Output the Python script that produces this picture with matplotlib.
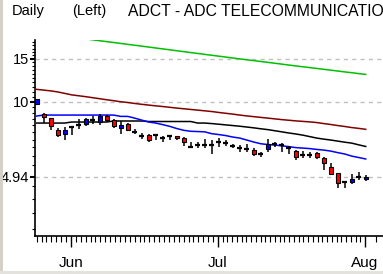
import numpy as np
import matplotlib
matplotlib.use("Agg")
import matplotlib.pyplot as plt
from matplotlib.patches import Rectangle

plt.rcParams['font.family'] = ['Liberation Sans', 'DejaVu Sans']

# daily candles, ADCT
opens = [9.81, 8.87, 8.55, 7.68, 7.39, 7.85, 8.05, 8.13, 8.44, 8.23, 8.71, 8.39,
         7.83, 8.10, 7.53, 7.22, 7.28, 7.33, 7.12, 7.23, 7.23, 7.10, 6.52, 6.65,
         6.65, 6.63, 6.82, 6.78, 6.56, 6.48, 6.42, 6.32, 6.09, 6.38, 6.69, 6.65,
         6.44, 6.28, 6.03, 6.03, 6.16, 5.88, 5.42, 5.10, 4.68, 4.70, 4.92, 4.84]
highs = [10.30, 9.01, 8.58, 7.78, 7.88, 7.85, 8.49, 8.57, 8.74, 8.90, 8.82, 8.49,
         8.33, 8.18, 7.75, 7.42, 7.35, 7.36, 7.22, 7.33, 7.23, 7.19, 6.82, 6.84,
         7.03, 6.95, 7.08, 6.95, 6.73, 6.65, 6.69, 6.44, 6.24, 7.03, 6.86, 6.77,
         6.56, 6.34, 6.28, 6.24, 6.21, 5.95, 5.61, 5.10, 4.72, 5.04, 5.14, 5.01]
lows = [9.75, 8.15, 7.68, 7.19, 6.99, 7.33, 7.73, 7.97, 8.13, 8.05, 8.23, 7.83,
        7.39, 7.59, 7.35, 7.01, 6.86, 6.95, 6.86, 6.99, 6.97, 6.60, 6.48, 6.45,
        6.45, 6.13, 6.54, 6.60, 6.44, 6.21, 6.21, 6.01, 5.95, 6.24, 6.52, 6.24,
        6.13, 5.75, 5.90, 5.88, 5.81, 5.26, 5.01, 4.42, 4.45, 4.61, 4.80, 4.74]
closes = [10.26, 8.62, 7.97, 7.33, 7.66, 7.85, 8.05, 8.47, 8.44, 8.76, 8.44, 7.97,
          8.03, 7.68, 7.53, 7.22, 6.99, 7.33, 7.12, 7.23, 7.08, 6.82, 6.52, 6.65,
          6.65, 6.63, 6.82, 6.78, 6.56, 6.48, 6.42, 6.13, 6.09, 6.71, 6.69, 6.65,
          6.44, 5.92, 6.03, 6.03, 5.92, 5.59, 5.07, 4.66, 4.68, 4.82, 4.92, 4.94]

# moving averages
ma_green = [19.21, 19.05, 18.88, 18.72, 18.56, 18.40, 18.24, 18.09, 17.93, 17.78,
            17.63, 17.48, 17.33, 17.18, 17.04, 16.89, 16.75, 16.60, 16.46, 16.32,
            16.18, 16.04, 15.90, 15.77, 15.63, 15.50, 15.37, 15.24, 15.11, 14.98,
            14.86, 14.74, 14.62, 14.50, 14.38, 14.26, 14.14, 14.02, 13.91, 13.80,
            13.69, 13.58, 13.47, 13.36, 13.25, 13.15, 13.04, 12.94]
ma_red = [11.24, 11.16, 11.08, 10.97, 10.82, 10.67, 10.58, 10.49, 10.39, 10.29,
          10.19, 10.10, 10.00, 9.93, 9.84, 9.76, 9.69, 9.62, 9.56, 9.49,
          9.42, 9.36, 9.30, 9.24, 9.18, 9.12, 9.04, 8.97, 8.90, 8.82,
          8.75, 8.69, 8.63, 8.57, 8.51, 8.45, 8.40, 8.35, 8.31, 8.27,
          8.22, 8.14, 8.07, 7.99, 7.92, 7.84, 7.78, 7.71]
ma_black = [8.18, 8.18, 8.18, 8.18, 8.18, 8.26, 8.26, 8.26, 8.26, 8.26,
            8.26, 8.34, 8.34, 8.34, 8.34, 8.34, 8.30, 8.30, 8.30, 8.30,
            8.30, 8.30, 8.30, 8.18, 8.18, 8.14, 8.09, 8.04, 7.99, 7.94,
            7.88, 7.82, 7.75, 7.69, 7.61, 7.53, 7.45, 7.38, 7.30, 7.20,
            7.10, 7.03, 6.97, 6.90, 6.83, 6.77, 6.66, 6.56]
ma_blue = [8.74, 8.82, 8.82, 8.82, 8.82, 8.82, 8.82, 8.82, 8.82, 8.82,
           8.82, 8.82, 8.71, 8.71, 8.57, 8.41, 8.26, 8.18, 8.06, 7.93,
           7.77, 7.64, 7.57, 7.55, 7.53, 7.40, 7.34, 7.27, 7.17, 7.10,
           6.97, 6.84, 6.73, 6.68, 6.65, 6.60, 6.55, 6.49, 6.46, 6.43,
           6.38, 6.34, 6.28, 6.19, 6.11, 5.99, 5.91, 5.83]

month_labels = ['Jun', 'Jul', 'Aug']
month_pos = [4.9, 25.9, 46.9]
grid_levels = [15, 10, 4.94]
grid_labels = ['15', '10', '4.94']

W, H = 383, 274
fig = plt.figure(figsize=(W / 100, H / 100), dpi=100)
fig.patch.set_facecolor('white')
# window chrome: grey strip at left, scrollbar at bottom
fig.add_artist(Rectangle((0, 0), 2.5 / W, 1, transform=fig.transFigure,
                         facecolor='#d4d0c8', edgecolor='none'))
fig.add_artist(Rectangle((0, 0), 1, 3 / H, transform=fig.transFigure,
                         facecolor='#e4e2dc', edgecolor='none'))

ax = fig.add_axes([35 / W, 38 / H, 348 / W, 196 / H])
ax.set_yscale('log')
ax.set_ylim(2.82, 17.9)
ax.set_xlim(-0.24, 49.47)

for lvl in grid_levels:
    ax.axhline(lvl, color='#c0c0c0', lw=1, ls=(0, (3, 3)), zorder=1)

x = np.arange(len(closes))
ax.plot(x, ma_green, color='#00c000', lw=1.1, zorder=2)
ax.plot(x, ma_red, color='#800000', lw=1.1, zorder=2)
ax.plot(x, ma_black, color='black', lw=1.1, zorder=2)
ax.plot(x, ma_blue, color='#0000ff', lw=1.1, zorder=2)

bw = 0.62
for i, (o, h, l, c) in enumerate(zip(opens, highs, lows, closes)):
    ax.vlines(i, l, h, color='black', lw=1.1, zorder=3)
    if abs(c - o) / o < 0.01:
        ax.hlines(o, i - 0.38, i + 0.38, color='black', lw=1.6, zorder=4)
    else:
        fc = '#0000ff' if c > o else '#ff0000'
        ax.add_patch(Rectangle((i - bw / 2, min(o, c)), bw, abs(c - o),
                               facecolor=fc, edgecolor='black', lw=0.8, zorder=4))

# y axis ticks
ax.set_yticks(grid_levels)
ax.set_yticklabels(grid_labels, fontsize=10.5)
minor_y = [v for v in np.arange(3.0, 18.0, 0.5) if v not in (15, 10, 5)]
ax.set_yticks(minor_y, minor=True)
ax.yaxis.set_minor_formatter(matplotlib.ticker.NullFormatter())
ax.tick_params(axis='y', which='major', length=3.6, width=1.5, pad=0.5)
ax.tick_params(axis='y', which='minor', length=2, width=0.8)

# x axis ticks: calendar days
minor_x = list(4.9 - 0.7 * np.arange(1, 8)) + list(np.linspace(4.9, 25.9, 31)) \
    + list(np.linspace(25.9, 46.9, 32)) + [48.5]
ax.set_xticks(month_pos)
ax.set_xticklabels(month_labels, fontsize=11)
ax.set_xticks(minor_x, minor=True)
ax.tick_params(axis='x', which='major', length=7.7, width=1, pad=6.5)
ax.tick_params(axis='x', which='minor', length=4, width=0.8)

for side in ('top', 'right'):
    ax.spines[side].set_visible(False)
for side in ('left', 'bottom'):
    ax.spines[side].set_linewidth(1.2)

fig.text(12 / W, 1 - 11 / H, 'Daily', fontsize=10.5, va='center', ha='left')
fig.text(72 / W, 1 - 11 / H, '(Left)', fontsize=10.5, va='center', ha='left')
fig.text(128 / W, 1 - 11 / H, 'ADCT - ADC TELECOMMUNICATIONS', fontsize=11.3,
         va='center', ha='left')

fig.savefig('out.png', dpi=100)
